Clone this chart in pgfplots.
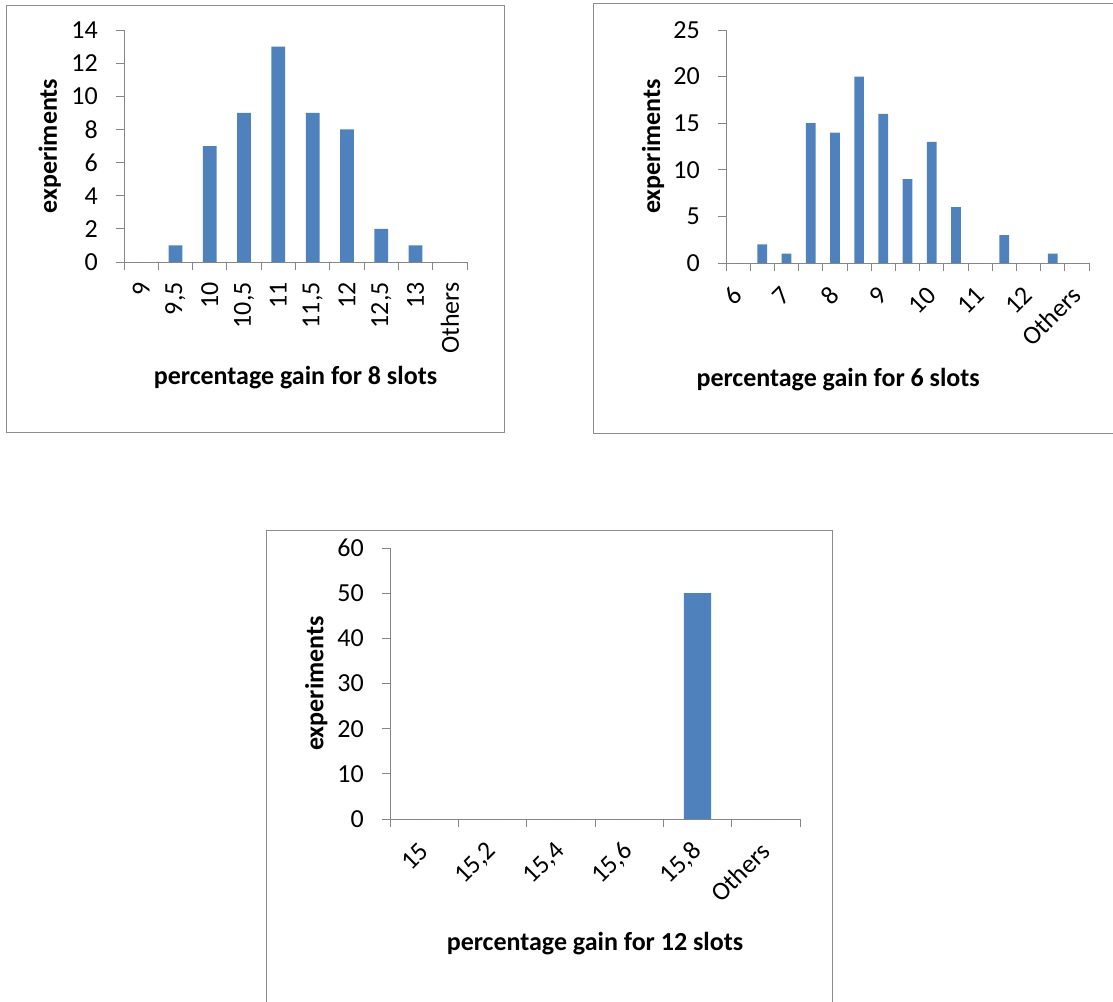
\documentclass[border=0pt]{standalone}
\usepackage{fontspec}
\setmainfont{Carlito}
\usepackage{pgfplots}
\usepackage{pgfplotstable}
\pgfplotsset{compat=1.18}

\definecolor{barblue}{HTML}{4F81BD}
\definecolor{axisgray}{HTML}{868686}
\definecolor{framegray}{HTML}{8C8C8C}

\newcommand{\ticksize}{\fontsize{19.5}{22}\selectfont}
\newcommand{\labelsize}{\fontsize{19.5}{22}\selectfont}

% histogram counts, one row per bin (idx = position on the category axis)
\pgfplotstableread{
idx bin  n
0   9.0  0
1   9.5  1
2   10.0 7
3   10.5 9
4   11.0 13
5   11.5 9
6   12.0 8
7   12.5 2
8   13.0 1
9   99   0
}\eightslots

\pgfplotstableread{
idx bin  n
0   6.0  0
1   6.5  2
2   7.0  1
3   7.5  15
4   8.0  14
5   8.5  20
6   9.0  16
7   9.5  9
8   10.0 13
9   10.5 6
10  11.0 0
11  11.5 3
12  12.0 0
13  12.5 1
14  99   0
}\sixslots

\pgfplotstableread{
idx bin  n
0   15.0 0
1   15.2 0
2   15.4 0
3   15.6 0
4   15.8 50
5   99   0
}\twelveslots

\pgfplotsset{
  histo/.style={
    scale only axis,
    ybar, bar width=0.4,
    axis lines=left,
    axis line style={-, axisgray, line width=0.75pt},
    every tick/.style={axisgray, line width=0.75pt},
    tick align=outside,
    major tick length=6pt,
    ymin=0,
    xticklabels={},
    extra x tick style={major tick length=0pt, grid=none},
    tick label style={font=\ticksize, text=black, inner sep=0pt},
    /pgf/number format/assume math mode=true,
    label style={font=\labelsize\bfseries, text=black},
    yticklabel shift=13.5pt,
    clip=false,
  },
}

\begin{document}
\begin{tikzpicture}[x=0.75pt, y=-0.75pt]
\useasboundingbox (0,0) rectangle (1113,1001);
\clip (0,0) rectangle (1113,1001);

% chart frames
\draw[framegray, line width=0.75pt] (6,5) rectangle (504,432);
\draw[framegray, line width=0.75pt] (593,3) rectangle (1130,433);
\draw[framegray, line width=0.75pt] (266,530) rectangle (832,1020);

\coordinate (o1) at (124,262);
\coordinate (o2) at (726,263);
\coordinate (o3) at (390,819);

% 8 slots
\begin{axis}[histo,
  at={(o1)}, anchor=south west,
  width=257.25pt, height=174pt,
  xmin=-0.5, xmax=9.5, ymax=14, ytick={0,2,...,14},
  xtick={-0.5,0.5,...,9.5},
  extra x ticks={0,1,...,9},
  extra x tick labels={9,{9,5},10,{10,5},11,{11,5},12,{12,5},13,Others},
  xticklabel style={rotate=90, anchor=east},
  xticklabel shift=15pt,
  xlabel={percentage gain for 8 slots},
  ylabel={experiments},
  xlabel style={at={(axis description cs:0.5,-0.5)}, anchor=center},
  ylabel style={at={(axis description cs:-0.216,0.5)}, anchor=center},
]
\addplot[fill=barblue, draw=none] table[x=idx, y=n] {\eightslots};
\end{axis}

% 6 slots
\begin{axis}[histo,
  at={(o2)}, anchor=south west,
  width=272.25pt, height=174.75pt,
  xmin=-0.5, xmax=14.5, ymax=25, ytick={0,5,...,25},
  xtick={-0.5,0.5,...,14.5},
  extra x ticks={0,2,...,14},
  extra x tick labels={6,7,8,9,10,11,12,Others},
  xticklabel style={rotate=45, anchor=east},
  xticklabel shift=21pt,
  xlabel={percentage gain for 6 slots},
  ylabel={experiments},
  xlabel style={at={(axis description cs:0.309,-0.50)}, anchor=center},
  ylabel style={at={(axis description cs:-0.201,0.5)}, anchor=center},
]
\addplot[fill=barblue, draw=none] table[x=idx, y=n] {\sixslots};
\end{axis}

% 12 slots
\begin{axis}[histo,
  at={(o3)}, anchor=south west,
  width=307.5pt, height=203.25pt,
  xmin=-0.5, xmax=5.5, ymax=60, ytick={0,10,...,60},
  xtick={-0.5,0.5,...,5.5},
  extra x ticks={0,1,...,5},
  extra x tick labels={15,{15,2},{15,4},{15,6},{15,8},Others},
  xticklabel style={rotate=45, anchor=east},
  xticklabel shift=21pt,
  xlabel={percentage gain for 12 slots},
  ylabel={experiments},
  xlabel style={at={(axis description cs:0.5,-0.458)}, anchor=center},
  ylabel style={at={(axis description cs:-0.18,0.5)}, anchor=center},
]
\addplot[fill=barblue, draw=none] table[x=idx, y=n] {\twelveslots};
\end{axis}
\end{tikzpicture}
\end{document}
